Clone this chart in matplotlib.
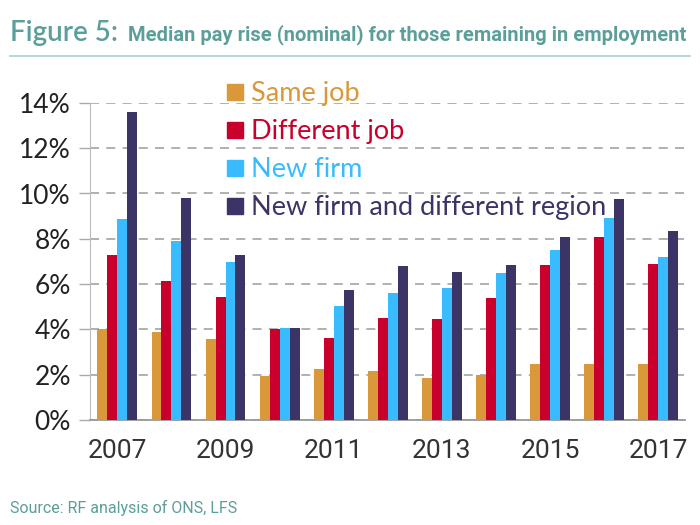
import matplotlib
matplotlib.use('Agg')
import matplotlib.pyplot as plt
from matplotlib.lines import Line2D
import numpy as np

years = [2007, 2008, 2009, 2010, 2011, 2012, 2013, 2014, 2015, 2016, 2017]
tick_years = [2007, 2009, 2011, 2013, 2015, 2017]

series_names = ['Same job', 'Different job', 'New firm', 'New firm and different region']
same_job = [4.0, 3.87, 3.58, 1.93, 2.24, 2.18, 1.85, 1.99, 2.46, 2.47, 2.49]
different_job = [7.3, 6.15, 5.42, 4.0, 3.63, 4.52, 4.45, 5.39, 6.83, 8.07, 6.87]
new_firm = [8.89, 7.9, 6.96, 4.05, 5.03, 5.62, 5.81, 6.48, 7.52, 8.93, 7.21]
new_firm_region = [13.6, 9.8, 7.27, 4.05, 5.72, 6.81, 6.55, 6.83, 8.09, 9.76, 8.36]

colors = ['#D9983A', '#C8002B', '#38BBFF', '#3A3566']
teal = '#5B9E9A'

fig = plt.figure(figsize=(7, 5.25), dpi=100)
ax = fig.add_axes([0.129, 0.2, 0.85, 0.604])

x = np.arange(len(years))
w = 0.184
all_series = [same_job, different_job, new_firm, new_firm_region]
for i, (vals, c) in enumerate(zip(all_series, colors)):
    ax.bar(x + (i - 1.5) * w, vals, width=w, color=c, zorder=3)

ax.set_xlim(-0.5, 10.5)
ax.set_ylim(0, 14)
ax.set_yticks(np.arange(0, 15, 2))
ax.set_yticklabels([f'{v}%' for v in range(0, 15, 2)], fontsize=19, color='#222222',
                   family=['Lato', 'DejaVu Sans'])
ax.set_xticks([years.index(y) for y in tick_years])
ax.set_xticklabels([str(y) for y in tick_years], fontsize=19, color='#333333',
                   family=['Roboto', 'DejaVu Sans'])
ax.tick_params(axis='x', length=0, pad=14)
ax.tick_params(axis='y', length=8, color='#aaaaaa', width=1, pad=6)

ax.grid(axis='y', linestyle=(0, (5, 4)), color='#aaaaaa', linewidth=1.3, zorder=0)
for s in ['top', 'right']:
    ax.spines[s].set_visible(False)
ax.spines['left'].set_color('#bbbbbb')
ax.spines['bottom'].set_color('#999999')
ax.spines['bottom'].set_linewidth(1.3)

handles = [Line2D([], [], marker='s', linestyle='none', markersize=11,
                  markerfacecolor=c, markeredgecolor=c) for c in colors]
leg = ax.legend(handles, series_names, loc='upper left', bbox_to_anchor=(0.19, 1.145),
                frameon=False, handlelength=0.55, handletextpad=0.3,
                labelspacing=0.48, prop={'family': ['Lato', 'DejaVu Sans'], 'size': 19.5})
for t, c in zip(leg.get_texts(), colors):
    t.set_color(c)

fig.text(0.014, 0.922, 'Figure 5:', fontsize=20, color=teal, fontweight='semibold',
         family=['Lato', 'DejaVu Sans'])
fig.text(0.183, 0.922, 'Median pay rise (nominal) for those remaining in employment',
         fontsize=14.5, color=teal, fontweight='bold',
         family=['Roboto', 'DejaVu Sans'])
fig.add_artist(Line2D([0.014, 0.986], [0.893, 0.893], color='#A8D0CE', linewidth=1.2))
fig.text(0.014, 0.022, 'Source: RF analysis of ONS, LFS', fontsize=11.5, color=teal,
         family=['Roboto', 'DejaVu Sans'])

fig.savefig('out.png', dpi=100)
